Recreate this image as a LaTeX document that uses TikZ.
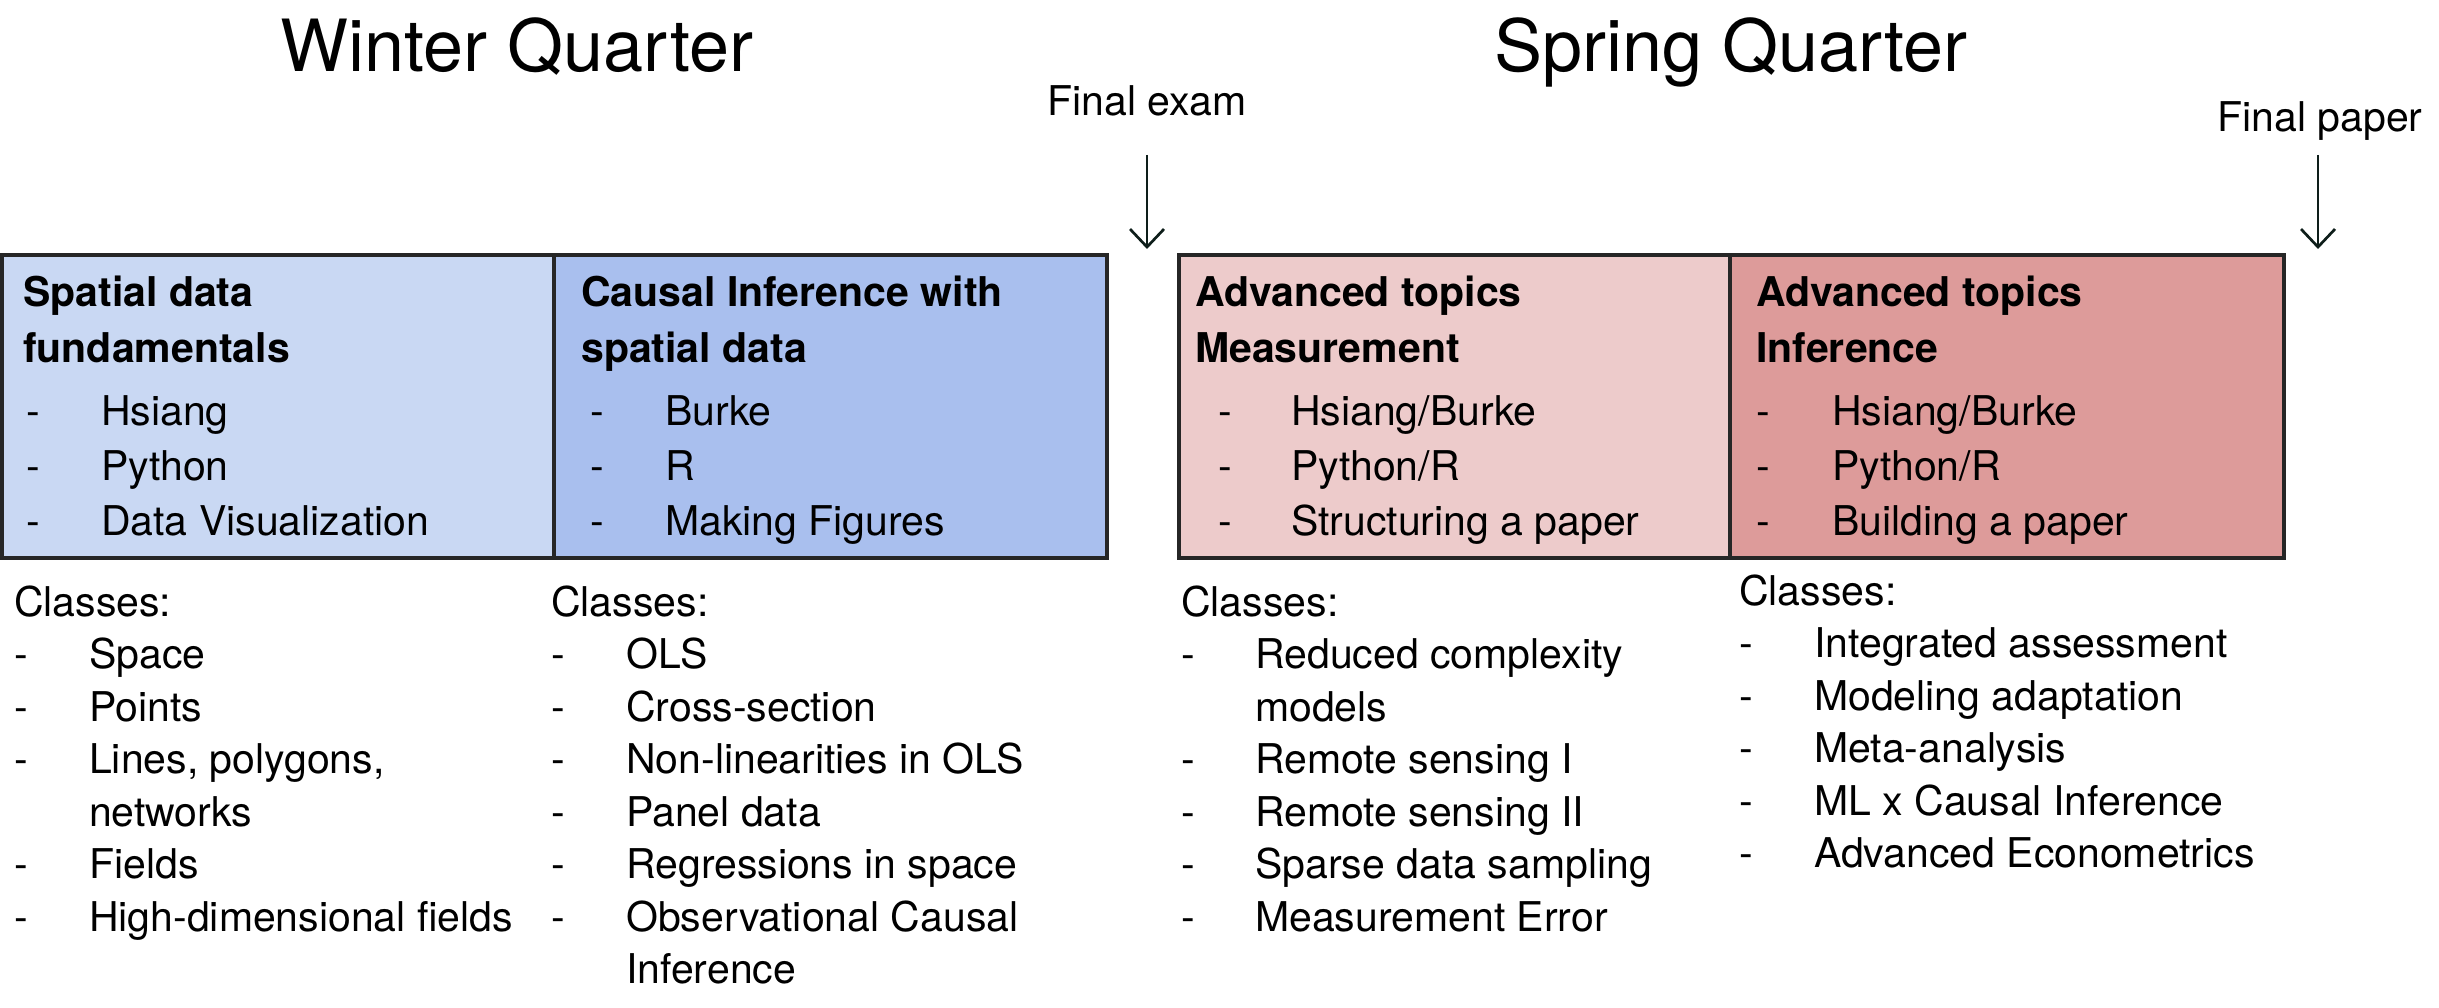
\documentclass[tikz,border=0pt]{standalone}
\usepackage{fontspec}
\setmainfont{TeX Gyre Heros}
\usetikzlibrary{positioning}
\usetikzlibrary{calc}
\usetikzlibrary{arrows.meta}
\definecolor{winterA}{HTML}{C9D8F3}
\definecolor{winterB}{HTML}{A9BFEE}
\definecolor{springA}{HTML}{EDCBCB}
\definecolor{springB}{HTML}{DD9B9A}
\definecolor{edge}{HTML}{262626}
\definecolor{duecol}{HTML}{0E1E1A}
\newcommand{\boxsize}{\fontsize{41}{55}\selectfont}
\newcommand{\listsize}{\fontsize{41}{52.5}\selectfont}
\tikzset{>={Straight Barb[length=18pt, width=34pt]}}
\tikzset{course/.style={rectangle, draw=edge, line width=3.5pt, inner sep=0pt, outer sep=0pt,
    anchor=north west, minimum height=303pt}}
\tikzset{coursetitle/.style={anchor=base west, inner sep=0pt, font=\boxsize\bfseries}}
\tikzset{courseitems/.style={anchor=base west, inner sep=0pt, font=\boxsize}}
\tikzset{classlist/.style={anchor=base west, inner sep=0pt, font=\listsize}}
\tikzset{quarter/.style={anchor=base, inner sep=0pt, font=\fontsize{72}{86}\selectfont}}
\tikzset{deadline/.style={anchor=base, inner sep=0pt, font=\boxsize}}
\tikzset{due/.style={->, line width=2.7pt, draw=duecol}}

\begin{document}
\begin{tikzpicture}[x=1pt, y=-1pt]
    \useasboundingbox (0,0) rectangle (2439,1008);

    % ------- Start Winter Quarter ------- %
    \node [quarter] (winter) at (517,72) {Winter Quarter};

    \node [course, fill=winterA, minimum width=552pt] (spat) at (2,255) {};
    \node [course, fill=winterB, minimum width=553pt] (caus) at (spat.north east) {};

    \node [coursetitle] (spatTitle) at ($(spat.north west) + (21,52)$)
        {\begin{tabular}[t]{@{}l@{}}Spatial data\\ fundamentals\end{tabular}};
    \node [courseitems] (spatItems) at ($(spat.north west) + (24,170)$)
        {\begin{tabular}[t]{@{}p{75pt}@{}l@{}}
        - & Hsiang\\ - & Python\\ - & Data Visualization
        \end{tabular}};

    \node [coursetitle] (causTitle) at ($(caus.north west) + (27,52)$)
        {\begin{tabular}[t]{@{}l@{}}Causal Inference with\\ spatial data\end{tabular}};
    \node [courseitems] (causItems) at ($(caus.north west) + (36,170)$)
        {\begin{tabular}[t]{@{}p{75pt}@{}l@{}}
        - & Burke\\ - & R\\ - & Making Figures
        \end{tabular}};

    % The classes below each block.
    \node [classlist] (spatClasses) at ($(spat.south west) + (12,58)$)
        {\begin{tabular}[t]{@{}p{75pt}@{}l@{}}
        \multicolumn{2}{@{}l@{}}{Classes:}\\
        - & Space\\ - & Points\\ - & Lines, polygons,\\ & networks\\
        - & Fields\\ - & High-dimensional fields
        \end{tabular}};
    \node [classlist] (causClasses) at ($(caus.south west) + (-3,58)$)
        {\begin{tabular}[t]{@{}p{75pt}@{}l@{}}
        \multicolumn{2}{@{}l@{}}{Classes:}\\
        - & OLS\\ - & Cross-section\\ - & Non-linearities in OLS\\ - & Panel data\\
        - & Regressions in space\\ - & Observational Causal\\ & Inference
        \end{tabular}};
    % ------- End Winter Quarter ------- %

    % ------- Start Spring Quarter ------- %
    \node [quarter] (spring) at (1731,72) {Spring Quarter};

    \node [course, fill=springA, minimum width=551pt] (meas) at (1179,255) {};
    \node [course, fill=springB, minimum width=554pt] (infr) at (meas.north east) {};

    \node [coursetitle] (measTitle) at ($(meas.north west) + (16,52)$)
        {\begin{tabular}[t]{@{}l@{}}Advanced topics\\ Measurement\end{tabular}};
    \node [courseitems] (measItems) at ($(meas.north west) + (39,170)$)
        {\begin{tabular}[t]{@{}p{73pt}@{}l@{}}
        - & Hsiang/Burke\\ - & Python/R\\ - & Structuring a paper
        \end{tabular}};

    \node [coursetitle] (infrTitle) at ($(infr.north west) + (26,52)$)
        {\begin{tabular}[t]{@{}l@{}}Advanced topics\\ Inference\end{tabular}};
    \node [courseitems] (infrItems) at ($(infr.north west) + (26,170)$)
        {\begin{tabular}[t]{@{}p{76pt}@{}l@{}}
        - & Hsiang/Burke\\ - & Python/R\\ - & Building a paper
        \end{tabular}};

    % The classes below each block.
    \node [classlist] (measClasses) at ($(meas.south west) + (2,58)$)
        {\begin{tabular}[t]{@{}p{74pt}@{}l@{}}
        \multicolumn{2}{@{}l@{}}{Classes:}\\
        - & Reduced complexity\\ & models\\ - & Remote sensing I\\ - & Remote sensing II\\
        - & Sparse data sampling\\ - & Measurement Error
        \end{tabular}};
    \node [classlist] (infrClasses) at ($(infr.south west) + (9,47)$)
        {\begin{tabular}[t]{@{}p{75pt}@{}l@{}}
        \multicolumn{2}{@{}l@{}}{Classes:}\\
        - & Integrated assessment\\ - & Modeling adaptation\\ - & Meta-analysis\\
        - & ML x Causal Inference\\ - & Advanced Econometrics
        \end{tabular}};
    % ------- End Spring Quarter ------- %

    % Deadlines between and after the quarters.
    \node [deadline] (exam) at (1147,116) {Final exam};
    \coordinate (examEnd) at (1147,249);
    \draw [due] (exam.base) ++(0,39) -- (examEnd);

    \node [deadline] (paper) at (2320,132) {Final paper};
    \coordinate (paperEnd) at (2318,249);
    \draw [due] (paper.base) ++(-2,23) -- (paperEnd);
\end{tikzpicture}
\end{document}
